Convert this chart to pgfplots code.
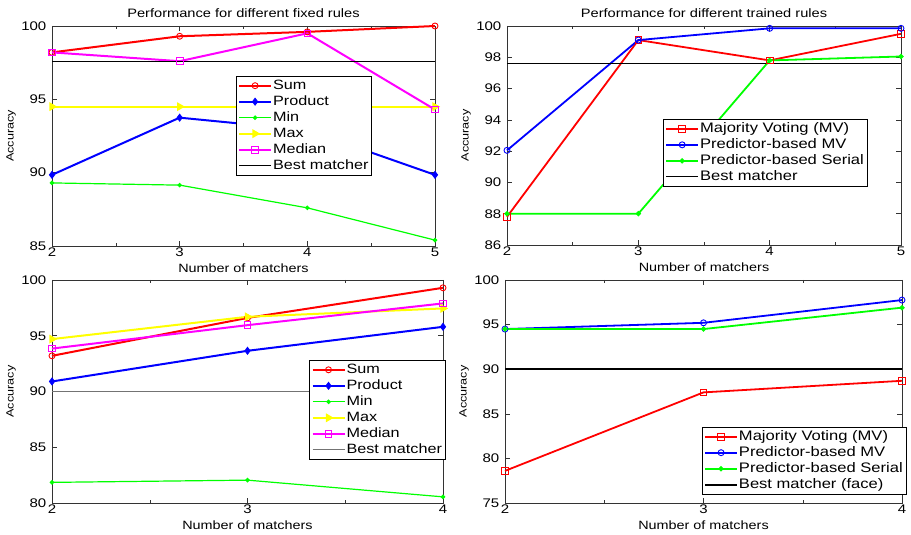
\documentclass[border=0pt]{standalone}
\usepackage{fontspec}
\setmainfont{Liberation Sans}[FakeStretch=1.2]
\usepackage{pgfplots}
\pgfplotsset{compat=1.18}
\definecolor{mred}{RGB}{255,0,0}
\definecolor{mblue}{RGB}{0,0,255}
\definecolor{mgreen}{RGB}{0,255,0}
\definecolor{myellow}{RGB}{255,255,0}
\definecolor{mmag}{RGB}{255,0,255}
\pgfplotsset{
  mstyle/.style={
    scale only axis, clip=false,
    /pgf/number format/assume math mode=true,
    tick label style={font=\fontsize{12.5}{14}\selectfont, inner sep=1.5pt},
    yticklabel style={xshift=-4pt},
    minor x tick num=1,
    tick align=inside, major tick length=5pt, minor tick length=3pt,
    axis line style={black!80, line width=0.6pt},
    every tick/.style={black!80, line width=0.5pt},
    title style={font=\fontsize{12.2}{14}\selectfont, anchor=base, at={(axis description cs:0.5,1)}, yshift=2pt},
    xlabel style={font=\fontsize{12}{14}\selectfont, at={(axis description cs:0.5,0)}, anchor=base, yshift=-27pt},
    ylabel style={font=\fontsize{10.5}{12}\selectfont, anchor=center, at={([xshift=-41pt]axis description cs:0,0.5)}},
    xlabel={Number of matchers}, ylabel={Accuracy},
    legend cell align=left,
    legend style={draw=black, line width=0.5pt, fill=white, inner sep=2pt, row sep=1pt,
      nodes={inner sep=1pt, text height=10pt, text depth=3pt}, anchor=north west},
    legend image code/.code={\draw[mark repeat=2,mark phase=2] plot coordinates {(0pt,0pt)(16pt,0pt)(32pt,0pt)};},
  },
  sumst/.style={mred, line width=2pt, mark=o, mark size=3pt, mark options={solid, line width=0.9pt}},
  prodst/.style={mblue, line width=2pt, mark=diamond*, mark size=3.5pt, mark options={solid, line width=0.8pt, fill=mblue}},
  minst/.style={mgreen, line width=1.2pt, mark=*, mark size=1.6pt, mark options={solid, fill=mgreen}},
  maxst/.style={myellow, line width=2pt, mark=triangle*, mark size=3.2pt, mark options={solid, rotate=-90, fill=myellow}},
  medst/.style={mmag, line width=2pt, mark=square, mark size=3.3pt, mark options={solid, line width=0.9pt}},
  mvst/.style={mred, line width=1.8pt, mark=square, mark size=3.3pt, mark options={solid, line width=0.9pt}},
  pmvst/.style={mblue, line width=1.8pt, mark=o, mark size=3pt, mark options={solid, line width=0.9pt}},
  psst/.style={mgreen, line width=1.8pt, mark=*, mark size=1.6pt, mark options={solid, fill=mgreen}},
}
\begin{document}
\begin{tikzpicture}
\useasboundingbox (0,0) rectangle (911pt,535pt);
% Panel 1
\begin{axis}[mstyle, at={(52pt,289pt)}, anchor=south west, width=383pt, height=220pt,
  xmin=2, xmax=5, ymin=85, ymax=100, xtick={2,3,4,5}, ytick={85,90,95,100},
  title={Performance for different fixed rules},
  legend style={at={(axis description cs:0.480,0.773)}, font=\fontsize{13.5}{15}\selectfont}]
\addplot[sumst] coordinates {(2,98.2) (3,99.3) (4,99.6) (5,100)};
\addlegendentry{Sum}
\addplot[prodst] coordinates {(2,89.85) (3,93.75) (4,92.9) (5,89.85)};
\addlegendentry{Product}
\addplot[minst] coordinates {(2,89.3) (3,89.15) (4,87.6) (5,85.4)};
\addlegendentry{Min}
\addplot[maxst] coordinates {(2,94.5) (3,94.5) (4,94.5) (5,94.5)};
\addlegendentry{Max}
\addplot[medst] coordinates {(2,98.2) (3,97.6) (4,99.5) (5,94.3)};
\addlegendentry{Median}
\addplot[black, line width=1.2pt] coordinates {(2,97.6) (5,97.6)};
\addlegendentry{Best matcher}
\end{axis}
% Panel 2
\begin{axis}[mstyle, at={(507pt,290pt)}, anchor=south west, width=394pt, height=219pt,
  xmin=2, xmax=5, ymin=86, ymax=100, xtick={2,3,4,5}, ytick={86,88,...,100},
  title={Performance for different trained rules},
  legend style={at={(axis description cs:0.396,0.575)}, font=\fontsize{13.8}{15}\selectfont}]
\addplot[mvst] coordinates {(2,87.8) (3,99.1) (4,97.8) (5,99.5)};
\addlegendentry{Majority Voting (MV)}
\addplot[pmvst] coordinates {(2,92.05) (3,99.1) (4,99.85) (5,99.85)};
\addlegendentry{Predictor-based MV}
\addplot[psst] coordinates {(2,88.0) (3,88.0) (4,97.8) (5,98.05)};
\addlegendentry{Predictor-based Serial}
\addplot[black, line width=1.2pt] coordinates {(2,97.6) (5,97.6)};
\addlegendentry{Best matcher}
\end{axis}
% Panel 3
\begin{axis}[mstyle, at={(52pt,32pt)}, anchor=south west, width=391pt, height=223pt,
  xmin=2, xmax=4, ymin=80, ymax=100, xtick={2,3,4}, ytick={80,85,...,100},
  legend style={at={(axis description cs:0.658,0.641)}, font=\fontsize{13.5}{15}\selectfont}]
\addplot[sumst] coordinates {(2,93.2) (3,96.6) (4,99.3)};
\addlegendentry{Sum}
\addplot[prodst] coordinates {(2,90.9) (3,93.65) (4,95.8)};
\addlegendentry{Product}
\addplot[minst] coordinates {(2,81.85) (3,82.05) (4,80.55)};
\addlegendentry{Min}
\addplot[maxst] coordinates {(2,94.7) (3,96.7) (4,97.45)};
\addlegendentry{Max}
\addplot[medst] coordinates {(2,93.85) (3,95.95) (4,97.9)};
\addlegendentry{Median}
\addplot[black!55, line width=0.9pt] coordinates {(2,90) (4,90)};
\addlegendentry{Best matcher}
\end{axis}
% Panel 4
\begin{axis}[mstyle, at={(505pt,32pt)}, anchor=south west, width=397pt, height=223pt,
  xmin=2, xmax=4, ymin=75, ymax=100, xtick={2,3,4}, ytick={75,80,...,100},
  legend style={at={(axis description cs:0.496,0.341)}, font=\fontsize{13.8}{15}\selectfont}]
\addplot[mvst] coordinates {(2,78.6) (3,87.4) (4,88.7)};
\addlegendentry{Majority Voting (MV)}
\addplot[pmvst] coordinates {(2,94.5) (3,95.2) (4,97.75)};
\addlegendentry{Predictor-based MV}
\addplot[psst] coordinates {(2,94.5) (3,94.5) (4,96.9)};
\addlegendentry{Predictor-based Serial}
\addplot[black, line width=1.8pt] coordinates {(2,90) (4,90)};
\addlegendentry{Best matcher (face)}
\end{axis}
\end{tikzpicture}
\end{document}
